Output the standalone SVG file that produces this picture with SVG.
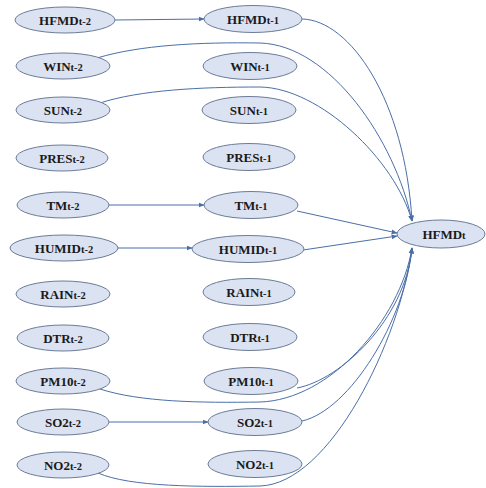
<svg xmlns="http://www.w3.org/2000/svg" width="486" height="488" viewBox="0 0 486 488">
<defs>
<marker id="arr" viewBox="0 0 10 10" refX="9" refY="5" markerWidth="6" markerHeight="6" markerUnits="userSpaceOnUse" orient="auto">
<path d="M0,1 L10,5 L0,9 Z" fill="#4a6fa8"/>
</marker>
<style>
.n ellipse{fill:#dbe2f2;stroke:#6c7c98;stroke-width:1}
.n text{font-family:"Liberation Serif","Times New Roman",serif;font-weight:bold;font-size:13px;fill:#1a1a1a;text-anchor:middle}
.n tspan{font-size:10.5px}
.e path{fill:none;stroke:#4a6fa8;stroke-width:1;marker-end:url(#arr)}
</style>
</defs>
<rect width="486" height="488" fill="#ffffff"/>
<g id="connectors" class="e">
<path d="M115,20 L204,19"/>
<path d="M109,205 L204,205"/>
<path d="M118,248 L192,248"/>
<path d="M109,422 L208,422"/>
<path d="M97,58 C140,45 200,42 260,43 C330,45 395,140 412,221"/>
<path d="M100,103 C140,90 200,87 260,87 C320,88 395,160 412,221"/>
<path d="M302,19 C350,20 405,100 412,221"/>
<path d="M297,211 L397,233"/>
<path d="M303,250 L397,236"/>
<path d="M100,389 C140,402 200,403 260,402 C330,400 400,320 412,248"/>
<path d="M297,388 C340,380 405,320 412,248"/>
<path d="M302,421 C350,410 405,320 412,248"/>
<path d="M98,473 C130,487 200,487 260,486 C330,484 400,340 412,248"/>
</g>
<g id="HFMDt-2" class="n"><ellipse cx="65" cy="20" rx="50" ry="13"/><text x="65" y="24.5">HFMD<tspan>t-2</tspan></text></g>
<g id="WINt-2" class="n"><ellipse cx="63" cy="66" rx="47" ry="13"/><text x="63" y="70.5">WIN<tspan>t-2</tspan></text></g>
<g id="SUNt-2" class="n"><ellipse cx="63" cy="110" rx="47" ry="13"/><text x="63" y="114.5">SUN<tspan>t-2</tspan></text></g>
<g id="PRESt-2" class="n"><ellipse cx="62" cy="158" rx="46" ry="13"/><text x="62" y="162.5">PRES<tspan>t-2</tspan></text></g>
<g id="TMt-2" class="n"><ellipse cx="63" cy="205" rx="46" ry="13"/><text x="63" y="209.5">TM<tspan>t-2</tspan></text></g>
<g id="HUMIDt-2" class="n"><ellipse cx="64" cy="248" rx="54" ry="13"/><text x="64" y="252.5">HUMID<tspan>t-2</tspan></text></g>
<g id="RAINt-2" class="n"><ellipse cx="63" cy="294" rx="47" ry="13"/><text x="63" y="298.5">RAIN<tspan>t-2</tspan></text></g>
<g id="DTRt-2" class="n"><ellipse cx="63" cy="338" rx="46" ry="13"/><text x="63" y="342.5">DTR<tspan>t-2</tspan></text></g>
<g id="PM10t-2" class="n"><ellipse cx="63" cy="381" rx="47" ry="13"/><text x="63" y="385.5">PM10<tspan>t-2</tspan></text></g>
<g id="SO2t-2" class="n"><ellipse cx="63" cy="422" rx="46" ry="13"/><text x="63" y="426.5">SO2<tspan>t-2</tspan></text></g>
<g id="NO2t-2" class="n"><ellipse cx="63" cy="465" rx="46" ry="13"/><text x="63" y="469.5">NO2<tspan>t-2</tspan></text></g>
<g id="HFMDt-1" class="n"><ellipse cx="253" cy="19" rx="49" ry="13.5"/><text x="253" y="23.5">HFMD<tspan>t-1</tspan></text></g>
<g id="WINt-1" class="n"><ellipse cx="250" cy="66" rx="47" ry="13.5"/><text x="250" y="70.5">WIN<tspan>t-1</tspan></text></g>
<g id="SUNt-1" class="n"><ellipse cx="249" cy="110" rx="47" ry="13.5"/><text x="249" y="114.5">SUN<tspan>t-1</tspan></text></g>
<g id="PRESt-1" class="n"><ellipse cx="249" cy="157" rx="46" ry="13.5"/><text x="249" y="161.5">PRES<tspan>t-1</tspan></text></g>
<g id="TMt-1" class="n"><ellipse cx="251" cy="205" rx="47" ry="13.5"/><text x="251" y="209.5">TM<tspan>t-1</tspan></text></g>
<g id="HUMIDt-1" class="n"><ellipse cx="248" cy="249" rx="56" ry="13.5"/><text x="248" y="253.5">HUMID<tspan>t-1</tspan></text></g>
<g id="RAINt-1" class="n"><ellipse cx="249" cy="292" rx="46" ry="13.5"/><text x="249" y="296.5">RAIN<tspan>t-1</tspan></text></g>
<g id="DTRt-1" class="n"><ellipse cx="250" cy="337" rx="47" ry="13.5"/><text x="250" y="341.5">DTR<tspan>t-1</tspan></text></g>
<g id="PM10t-1" class="n"><ellipse cx="251" cy="381" rx="47" ry="13.5"/><text x="251" y="385.5">PM10<tspan>t-1</tspan></text></g>
<g id="SO2t-1" class="n"><ellipse cx="255" cy="422" rx="47" ry="13.5"/><text x="255" y="426.5">SO2<tspan>t-1</tspan></text></g>
<g id="NO2t-1" class="n"><ellipse cx="255" cy="464" rx="47" ry="13.5"/><text x="255" y="468.5">NO2<tspan>t-1</tspan></text></g>
<g id="HFMDt" class="n"><ellipse cx="441" cy="234" rx="44" ry="14"/><text x="444" y="238.5">HFMD<tspan>t</tspan></text></g>
</svg>
